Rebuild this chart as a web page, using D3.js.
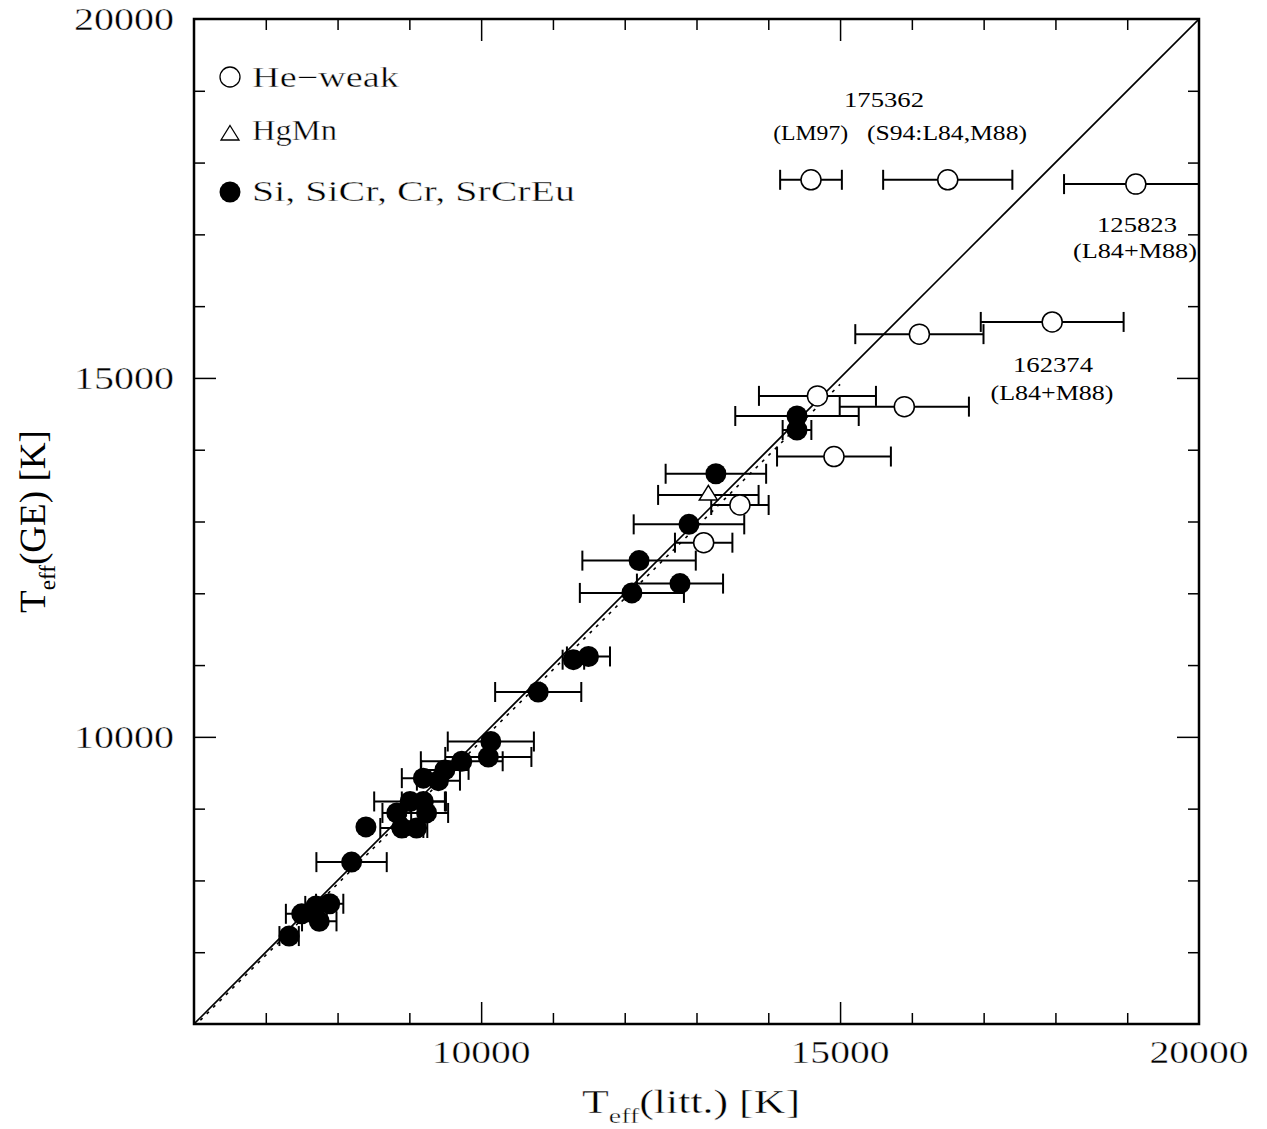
<!DOCTYPE html>
<html>
<head>
<meta charset="utf-8">
<script src="https://cdn.jsdelivr.net/npm/d3@7"></script>
<style>
  body { margin: 0; background: #fff; }
  text { font-family: "Liberation Serif", "DejaVu Serif", serif; fill: #000; }
  text.thin { stroke: #fff; stroke-width: 0.4px; }
</style>
</head>
<body>
<svg id="chart" width="1267" height="1129"></svg>
<script>
// Data
// He-weak stars (open circles)
const heWeakX   = [14595, 16500, 19120, 16105, 17955, 14685, 15895, 14915, 13605, 13100]
const heWeakY   = [17760, 17760, 17700, 15610, 15780, 14750, 14600, 13905, 13230, 12705]
const heWeakErr = [  430,   900,  1000,   893,   995,   815,   900,   793,   400,   400]

// HgMn (open triangle)
const hgmnX   = [13165]
const hgmnY   = [13370]
const hgmnErr = [700]

// Si, SiCr, Cr, SrCrEu (filled circles)
const apX   = [14400, 14400, 13270, 12895, 12200, 12770, 12100, 11285, 11495, 10795,
               10135, 10100, 9730, 9495, 9405, 9195, 9010, 9195, 8825, 9240,
               8895, 9100, 8395, 8195, 7890, 7700, 7500, 7745, 7325]
const apY   = [14470, 14275, 13665, 12960, 12455, 12135, 12005, 11075, 11120, 10625,
               9935, 9720, 9660, 9540, 9390, 9425, 9100, 9100, 8940, 8940,
               8730, 8730, 8745, 8255, 7675, 7645, 7535, 7430, 7225]
const apErr = [860, 200, 700, 770, 790, 600, 725, 150, 300, 600,
               600, 600, 570, 330, 300, 300, 500, 300, 200, 300,
               300, 150, 0, 490, 190, 150, 220, 240, 135]

// one-to-one line and the dotted fit
const oneToOne   = [[6000, 6000], [20000, 20000]]
const dottedLine = [[6000, 5964], [15000, 14911]]

const domain = [6000, 20000]
const majorTicks = [10000, 15000]
const minorTicks = d3.range(7000, 20000, 1000).filter(d => d % 5000 !== 0)
const tickLabels = [10000, 15000, 20000]

const legendItems = ["He\u2212weak", "HgMn", "Si, SiCr, Cr, SrCrEu"]

const notes = [
  {text: "175362",        x: 15612, y: 18778, len: 80},
  {text: "(LM97)",        x: 14591, y: 18314, len: 75},
  {text: "(S94:L84,M88)", x: 16489, y: 18314, len: 160},
  {text: "125823",        x: 19136, y: 17037, len: 80},
  {text: "(L84+M88)",     x: 19108, y: 16666, len: 124},
  {text: "162374",        x: 17966, y: 15087, len: 80},
  {text: "(L84+M88)",     x: 17952, y: 14692, len: 123}
]

// Layout
const margin = {left: 194, top: 19}
const W = 1005, H = 1005

const svg = d3.select("#chart")
const g = svg.append("g").attr("transform", `translate(${margin.left},${margin.top})`)

const x = d3.scaleLinear().domain(domain).range([0, W])
const y = d3.scaleLinear().domain(domain).range([H, 0])

svg.append("defs").append("clipPath").attr("id", "clip")
  .append("rect").attr("width", W).attr("height", H)

// axes, ticks pointing inward on all sides
function drawAxis(axisFn, transform, values, size) {
  g.append("g")
    .attr("transform", transform)
    .call(axisFn.tickValues(values).tickSize(size).tickFormat(""))
    .call(a => a.select(".domain").remove())
    .selectAll("line").attr("stroke", "#000").attr("stroke-width", 1.5)
}
drawAxis(d3.axisBottom(x), `translate(0,${H})`, majorTicks, -22)
drawAxis(d3.axisBottom(x), `translate(0,${H})`, minorTicks, -11)
drawAxis(d3.axisTop(x), "translate(0,0)", majorTicks, -22)
drawAxis(d3.axisTop(x), "translate(0,0)", minorTicks, -11)
drawAxis(d3.axisLeft(y), "translate(0,0)", majorTicks, -22)
drawAxis(d3.axisLeft(y), "translate(0,0)", minorTicks, -11)
drawAxis(d3.axisRight(y), `translate(${W},0)`, majorTicks, -22)
drawAxis(d3.axisRight(y), `translate(${W},0)`, minorTicks, -11)

g.append("rect").attr("width", W).attr("height", H)
  .attr("fill", "none").attr("stroke", "#000").attr("stroke-width", 2.5)

// tick labels
g.selectAll(".xlab").data(tickLabels).enter().append("text")
  .attr("class", "thin")
  .attr("x", d => x(d)).attr("y", H + 39)
  .attr("text-anchor", "middle")
  .attr("font-size", 32)
  .attr("textLength", 99).attr("lengthAdjust", "spacingAndGlyphs")
  .text(d => d)
g.selectAll(".ylab").data(tickLabels).enter().append("text")
  .attr("class", "thin")
  .attr("x", -120).attr("y", d => y(d) + 11)
  .attr("font-size", 32)
  .attr("textLength", 100).attr("lengthAdjust", "spacingAndGlyphs")
  .text(d => d)

// axis titles
const xt = svg.append("text").attr("class", "thin")
  .attr("x", 582).attr("y", 1113)
  .attr("font-size", 33)
  .attr("textLength", 218).attr("lengthAdjust", "spacingAndGlyphs")
xt.append("tspan").text("T")
xt.append("tspan").attr("font-size", 21).attr("dy", 10).text("eff")
xt.append("tspan").attr("dy", -10).text("(litt.) [K]")

const yt = svg.append("text")
  .attr("transform", "translate(45,613) rotate(-90)")
  .attr("font-size", 37)
  .style("text-rendering", "geometricPrecision")
  .attr("textLength", 183).attr("lengthAdjust", "spacingAndGlyphs")
yt.append("tspan").text("T")
yt.append("tspan").attr("font-size", 23).attr("dy", 10).text("eff")
yt.append("tspan").attr("dy", -10).text("(GE) [K]")

// plot body
const body = g.append("g").attr("clip-path", "url(#clip)")
const line = d3.line().x(d => x(d[0])).y(d => y(d[1]))

body.append("path").attr("d", line(oneToOne))
  .attr("fill", "none").attr("stroke", "#000").attr("stroke-width", 1.6)
body.append("path").attr("d", line(dottedLine))
  .attr("fill", "none").attr("stroke", "#000").attr("stroke-width", 1.6)
  .attr("stroke-dasharray", "3,6")

function errorBars(xs, ys, es) {
  const idx = d3.range(xs.length).filter(i => es[i] > 0)
  const bars = body.append("g").attr("stroke", "#000").attr("stroke-width", 2)
  bars.selectAll(".h").data(idx).enter().append("line")
    .attr("x1", i => x(xs[i] - es[i])).attr("x2", i => x(xs[i] + es[i]))
    .attr("y1", i => y(ys[i])).attr("y2", i => y(ys[i]))
  bars.selectAll(".l").data(idx).enter().append("line")
    .attr("x1", i => x(xs[i] - es[i])).attr("x2", i => x(xs[i] - es[i]))
    .attr("y1", i => y(ys[i]) - 10).attr("y2", i => y(ys[i]) + 10)
  bars.selectAll(".r").data(idx).enter().append("line")
    .attr("x1", i => x(xs[i] + es[i])).attr("x2", i => x(xs[i] + es[i]))
    .attr("y1", i => y(ys[i]) - 10).attr("y2", i => y(ys[i]) + 10)
}
errorBars(heWeakX, heWeakY, heWeakErr)
errorBars(hgmnX, hgmnY, hgmnErr)
errorBars(apX, apY, apErr)

const triPath = "M0,-9.5 L9,5 L-9,5 Z"

body.selectAll(".he").data(heWeakX).enter().append("circle")
  .attr("cx", (d, i) => x(d)).attr("cy", (d, i) => y(heWeakY[i])).attr("r", 10)
  .attr("fill", "#fff").attr("stroke", "#000").attr("stroke-width", 1.5)
body.selectAll(".hg").data(hgmnX).enter().append("path")
  .attr("d", triPath)
  .attr("transform", (d, i) => `translate(${x(d)},${y(hgmnY[i])})`)
  .attr("fill", "#fff").attr("stroke", "#000").attr("stroke-width", 1.5)
body.selectAll(".ap").data(apX).enter().append("circle")
  .attr("cx", (d, i) => x(d)).attr("cy", (d, i) => y(apY[i])).attr("r", 10.5)
  .attr("fill", "#000")

// annotations
g.selectAll(".note").data(notes).enter().append("text")
  .attr("x", d => x(d.x)).attr("y", d => y(d.y))
  .attr("text-anchor", "middle")
  .attr("font-size", 22)
  .attr("textLength", d => d.len).attr("lengthAdjust", "spacingAndGlyphs")
  .text(d => d.text)

// legend
const leg = svg.append("g")
leg.append("circle").attr("cx", 230).attr("cy", 77).attr("r", 10)
  .attr("fill", "#fff").attr("stroke", "#000").attr("stroke-width", 1.3)
leg.append("path").attr("d", triPath).attr("transform", "translate(230,135)")
  .attr("fill", "#fff").attr("stroke", "#000").attr("stroke-width", 1.3)
leg.append("circle").attr("cx", 230).attr("cy", 192).attr("r", 10.5).attr("fill", "#000")
const legLens = [147, 85, 323]
const legBase = [87, 140, 201]
leg.selectAll("text").data(legendItems).enter().append("text")
  .attr("class", "thin")
  .attr("x", 252).attr("y", (d, i) => legBase[i])
  .attr("font-size", 29)
  .attr("textLength", (d, i) => legLens[i]).attr("lengthAdjust", "spacingAndGlyphs")
  .text(d => d)
</script>
</body>
</html>
